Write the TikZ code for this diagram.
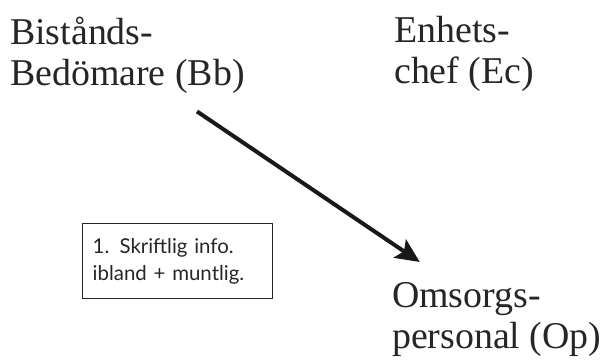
\documentclass[tikz,border=0pt]{standalone}
\usepackage{fontspec}
\setmainfont{Liberation Serif}
\newfontfamily\notefont{Lato}
\usetikzlibrary{arrows.meta}
\usetikzlibrary{positioning}

\tikzset{
    role/.style={align=left, inner sep=0pt, anchor=base west, text=black!85,
        font=\fontsize{38}{41}\selectfont},
    note/.style={draw=black!85, line width=1.4pt, align=left, anchor=north west,
        text=black!85, text width=170bp, minimum height=75bp, inner xsep=10bp,
        inner ysep=0pt, font=\notefont\fontsize{20.5}{27}\selectfont},
}

\begin{document}
\begin{tikzpicture}[x=1bp,y=-1bp]
    \useasboundingbox (0,0) rectangle (600,363);
    \node[role] (bb) at (10,85) {Bistånds-\\Bedömare (Bb)};
    \node[role] (ec) at (394,83) {Enhets-\\chef (Ec)};
    \node[role] (op) at (392,348) {Omsorgs-\\personal (Op)};
    \node[note] (info) at (82,223) {1. Skriftlig info.\\ibland + muntlig.};
    %
    \draw[line width=4bp, black!90, -{Stealth[length=24bp, width=22bp, inset=5bp]},
        shorten <=84bp, shorten >=93bp] ([yshift=-9.5bp]bb.center) -- ([yshift=5bp]op.center);
\end{tikzpicture}
\end{document}
